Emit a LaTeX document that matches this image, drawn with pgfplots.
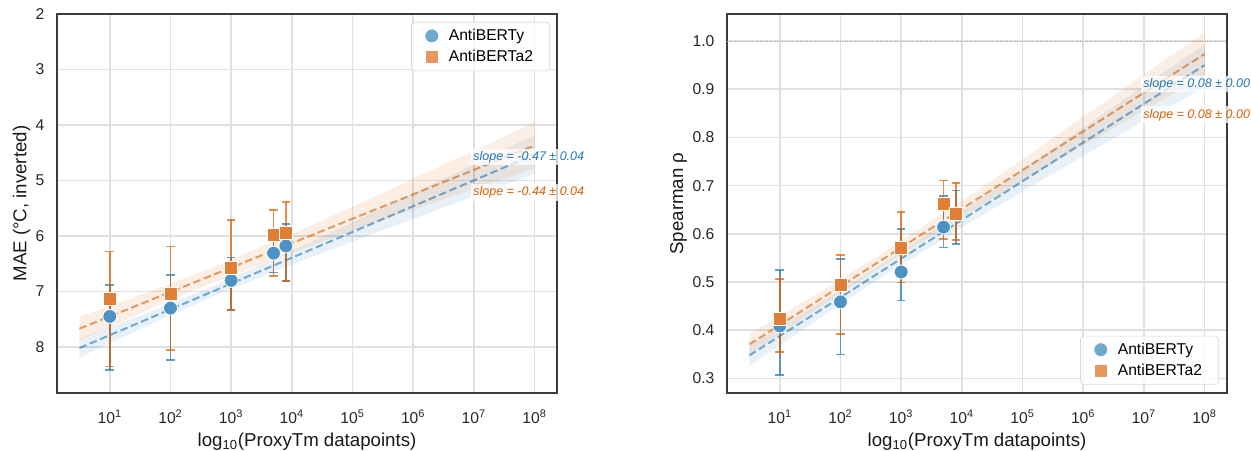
\documentclass[border=0pt]{standalone}
\usepackage{fontspec}
\setmainfont{Liberation Sans}
\usepackage{pgfplots}
\pgfplotsset{compat=1.18}
\definecolor{cblue}{HTML}{1F77B4}
\definecolor{corange}{HTML}{D95F02}
\definecolor{mblue}{HTML}{4C92C3}
\definecolor{morange}{HTML}{E07F35}
\definecolor{gridc}{HTML}{E0E0E0}
\definecolor{framec}{HTML}{3C3C3C}

\tikzset{slopelbl/.style={anchor=west, xshift=-2pt, font=\fontsize{7.5}{9}\selectfont\itshape,
    fill=white, fill opacity=0.75, text opacity=1, inner sep=1.5pt}}

\begin{document}
\begin{tikzpicture}
\path[use as bounding box] (0,0) rectangle (750.6pt,270.6pt);

% left: MAE
\begin{axis}[scale only axis, width=300pt, height=227.4pt,
  at={(34.2pt,34.8pt)}, anchor=south west,
  xmode=log, xmin=1.349, xmax=2.344e8,
  xtick={10,100,1000,10000,100000,1000000,10000000,100000000},
  xticklabels={10\textsuperscript{1},10\textsuperscript{2},10\textsuperscript{3},10\textsuperscript{4},10\textsuperscript{5},10\textsuperscript{6},10\textsuperscript{7},10\textsuperscript{8}},
  xmajorgrids, ymajorgrids, major grid style={gridc, line width=1pt},
  axis line style={framec, line width=1.2pt},
  major tick length=0pt, minor tick length=0pt,
  tick label style={font=\fontsize{9.4}{11}\selectfont, black!85},
  xticklabel style={yshift=-6.5pt},
  yticklabel style={xshift=-4pt},
  label style={font=\fontsize{11.2}{13}\selectfont, black!90},
  xlabel style={yshift=1.5pt},
  ylabel shift=-3.5pt,
  xlabel={log\textsubscript{10}(ProxyTm datapoints)},
  /pgf/number format/assume math mode=true,
  clip=false,
  legend cell align=left,
  legend style={draw=black!15, rounded corners=2pt, fill=white, fill opacity=0.8, text opacity=1,
    font=\fontsize{9.4}{11}\selectfont, inner xsep=8pt, inner ysep=2pt, row sep=0.5pt, column sep=4pt,
    at={(1,1)}, anchor=north east, xshift=-4.2pt, yshift=-4.8pt},
  y dir=reverse, ymin=2, ymax=8.83, ytick={2,3,4,5,6,7,8},
  ylabel={MAE (°C, inverted)}]
% confidence bands
\addplot[forget plot, draw=none, fill=cblue, fill opacity=0.1] coordinates {(3.1623,7.85) (10,7.644) (100,7.219) (524.8,6.894) (1e4,6.269) (1e5,5.755) (1e6,5.234) (1e7,4.709) (1e8,4.183) (1e8,4.883) (1e7,5.287) (1e6,5.692) (1e5,6.101) (1e4,6.517) (524.8,7.082) (100,7.427) (10,7.932) (3.1623,8.19)} -- cycle;
\addplot[forget plot, draw=none, fill=corange, fill opacity=0.1] coordinates {(3.1623,7.455) (10,7.262) (100,6.862) (524.8,6.555) (1e4,5.963) (1e5,5.472) (1e6,4.971) (1e7,4.464) (1e8,3.955) (1e8,4.785) (1e7,5.156) (1e6,5.529) (1e5,5.908) (1e4,6.297) (524.8,6.831) (100,7.158) (10,7.638) (3.1623,7.885)} -- cycle;
% fit lines
\addplot[forget plot, cblue, draw opacity=0.6, line width=1.2pt, dash pattern=on 4.5pt off 2.2pt] coordinates {(3.1623,8.02) (1e8,4.533)};
\addplot[forget plot, corange, draw opacity=0.6, line width=1.2pt, dash pattern=on 4.5pt off 2.2pt] coordinates {(3.1623,7.67) (1e8,4.37)};
% error bars
\addplot[forget plot, only marks, mark=none, error bars/y dir=both, error bars/y explicit,
  error bars/error bar style={line width=1pt, cblue, opacity=0.7},
  error bars/error mark options={rotate=90, mark size=2.6pt, line width=1pt, cblue, opacity=0.7}]
  coordinates {(10,7.45) += (0,0.96) -= (0,0.57) (100,7.30) += (0,0.94) -= (0,0.60) (1000,6.80) += (0,0.54) -= (0,0.41) (5000,6.31) += (0,0.35) -= (0,0.36) (8000,6.18) += (0,0.63) -= (0,0.40)};
\addplot[forget plot, only marks, mark=none, error bars/y dir=both, error bars/y explicit,
  error bars/error bar style={line width=1pt, corange, opacity=0.7},
  error bars/error mark options={rotate=90, mark size=2.6pt, line width=1pt, corange, opacity=0.7}]
  coordinates {(10,7.13) += (0,1.22) -= (0,0.85) (100,7.04) += (0,1.01) -= (0,0.85) (1000,6.58) += (0,0.76) -= (0,0.87) (5000,5.98) += (0,0.74) -= (0,0.45) (8000,5.94) += (0,0.87) -= (0,0.55)};
% points
\addplot[only marks, mark=*, mark size=4.2pt, mark options={fill=mblue, draw=white, line width=0.5pt}]
  coordinates {(10,7.45) (100,7.30) (1000,6.80) (5000,6.31) (8000,6.18)};
\addlegendentry{AntiBERTy}
\addplot[only marks, mark=square*, mark size=3.9pt, mark options={fill=morange, draw=white, line width=0.5pt}]
  coordinates {(10,7.13) (100,7.04) (1000,6.58) (5000,5.98) (8000,5.94)};
\addlegendentry{AntiBERTa2}
\node[slopelbl, text=cblue] at (axis cs:1e7,4.58) {slope = -0.47 ± 0.04};
\node[slopelbl, text=corange] at (axis cs:1e7,5.22) {slope = -0.44 ± 0.04};
\end{axis}

% right: Spearman
\begin{axis}[scale only axis, width=300pt, height=227.4pt,
  at={(436.2pt,34.8pt)}, anchor=south west,
  xmode=log, xmin=1.349, xmax=2.344e8,
  xtick={10,100,1000,10000,100000,1000000,10000000,100000000},
  xticklabels={10\textsuperscript{1},10\textsuperscript{2},10\textsuperscript{3},10\textsuperscript{4},10\textsuperscript{5},10\textsuperscript{6},10\textsuperscript{7},10\textsuperscript{8}},
  xmajorgrids, ymajorgrids, major grid style={gridc, line width=1pt},
  axis line style={framec, line width=1.2pt},
  major tick length=0pt, minor tick length=0pt,
  tick label style={font=\fontsize{9.4}{11}\selectfont, black!85},
  xticklabel style={yshift=-6.5pt},
  yticklabel style={xshift=-4pt},
  label style={font=\fontsize{11.2}{13}\selectfont, black!90},
  xlabel style={yshift=1.5pt},
  ylabel shift=-3.5pt,
  xlabel={log\textsubscript{10}(ProxyTm datapoints)},
  /pgf/number format/assume math mode=true,
  clip=false,
  legend cell align=left,
  legend style={draw=black!15, rounded corners=2pt, fill=white, fill opacity=0.8, text opacity=1,
    font=\fontsize{9.4}{11}\selectfont, inner xsep=8pt, inner ysep=2pt, row sep=0.5pt, column sep=4pt,
    at={(1,0)}, anchor=south east, xshift=-4.8pt, yshift=4.8pt},
  ymin=0.270, ymax=1.056, ytick={0.3,0.4,0.5,0.6,0.7,0.8,0.9,1.0},
  yticklabel style={/pgf/number format/fixed, /pgf/number format/fixed zerofill, /pgf/number format/precision=1},
  ylabel={Spearman ρ}]
\addplot[forget plot, gray!70, densely dotted, line width=0.5pt] coordinates {(1.349,1) (2.344e8,1)};
% confidence bands
\addplot[forget plot, draw=none, fill=cblue, fill opacity=0.1] coordinates {(3.1623,0.326) (10,0.369) (100,0.4547) (524.8,0.5139) (1e4,0.6134) (1e5,0.6876) (1e6,0.7618) (1e7,0.8345) (1e8,0.904) (1e8,0.992) (1e7,0.9075) (1e6,0.8202) (1e5,0.7324) (1e4,0.6466) (524.8,0.5401) (100,0.4833) (10,0.407) (3.1623,0.370)} -- cycle;
\addplot[forget plot, draw=none, fill=corange, fill opacity=0.1] coordinates {(3.1623,0.350) (10,0.392) (100,0.4765) (524.8,0.5355) (1e4,0.635) (1e5,0.709) (1e6,0.783) (1e7,0.856) (1e8,0.928) (1e8,1.018) (1e7,0.930) (1e6,0.843) (1e5,0.755) (1e4,0.669) (524.8,0.5625) (100,0.5055) (10,0.430) (3.1623,0.392)} -- cycle;
% fit lines
\addplot[forget plot, cblue, draw opacity=0.6, line width=1.2pt, dash pattern=on 4.5pt off 2.2pt] coordinates {(3.1623,0.348) (1e8,0.950)};
\addplot[forget plot, corange, draw opacity=0.6, line width=1.2pt, dash pattern=on 4.5pt off 2.2pt] coordinates {(3.1623,0.371) (1e8,0.973)};
% error bars
\addplot[forget plot, only marks, mark=none, error bars/y dir=both, error bars/y explicit,
  error bars/error bar style={line width=1pt, cblue, opacity=0.7},
  error bars/error mark options={rotate=90, mark size=2.6pt, line width=1pt, cblue, opacity=0.7}]
  coordinates {(10,0.409) += (0,0.116) -= (0,0.102) (100,0.459) += (0,0.089) -= (0,0.109) (1000,0.521) += (0,0.089) -= (0,0.059) (5000,0.614) += (0,0.064) -= (0,0.042) (8000,0.641) += (0,0.049) -= (0,0.062)};
\addplot[forget plot, only marks, mark=none, error bars/y dir=both, error bars/y explicit,
  error bars/error bar style={line width=1pt, corange, opacity=0.7},
  error bars/error mark options={rotate=90, mark size=2.6pt, line width=1pt, corange, opacity=0.7}]
  coordinates {(10,0.424) += (0,0.083) -= (0,0.069) (100,0.494) += (0,0.062) -= (0,0.101) (1000,0.571) += (0,0.075) -= (0,0.072) (5000,0.662) += (0,0.049) -= (0,0.072) (8000,0.641) += (0,0.064) -= (0,0.054)};
% points
\addplot[only marks, mark=*, mark size=4.2pt, mark options={fill=mblue, draw=white, line width=0.5pt}]
  coordinates {(10,0.409) (100,0.459) (1000,0.521) (5000,0.614) (8000,0.641)};
\addlegendentry{AntiBERTy}
\addplot[only marks, mark=square*, mark size=3.9pt, mark options={fill=morange, draw=white, line width=0.5pt}]
  coordinates {(10,0.424) (100,0.494) (1000,0.571) (5000,0.662) (8000,0.641)};
\addlegendentry{AntiBERTa2}
\node[slopelbl, text=cblue] at (axis cs:1e7,0.911) {slope = 0.08 ± 0.00};
\node[slopelbl, text=corange] at (axis cs:1e7,0.847) {slope = 0.08 ± 0.00};
\end{axis}
\end{tikzpicture}
\end{document}
